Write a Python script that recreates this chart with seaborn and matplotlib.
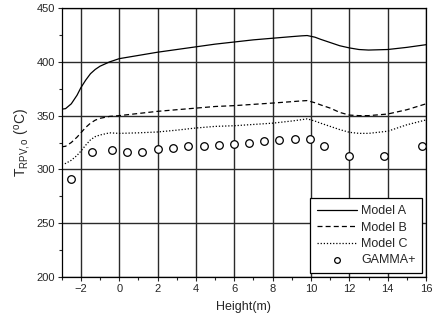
import numpy as np
import pandas as pd
import seaborn as sns
import matplotlib.pyplot as plt

sns.set_style('white')
plt.rcParams['font.family'] = ['Liberation Sans', 'DejaVu Sans']
plt.rcParams['mathtext.fontset'] = 'custom'
plt.rcParams['mathtext.rm'] = 'Liberation Sans'
plt.rcParams['mathtext.it'] = 'Liberation Sans'

# curves
height_model = [-3.0, -2.8, -2.5, -2.2, -2.0, -1.75, -1.5, -1.25, -1.0, -0.5, 0.0, 1.0, 2.0,
                3.0, 4.0, 5.0, 6.0, 7.0, 8.0, 9.0, 9.5, 9.8, 10.2, 10.5, 11.0, 11.5, 12.0,
                12.5, 13.0, 14.0, 15.0, 16.0]
model_a = [356, 356.5, 361, 369, 376, 383, 389, 393, 396, 400, 403, 406, 409,
           411.5, 414, 416.5, 418.5, 420.5, 422, 423.5, 424.2, 424.5, 423, 421, 418, 415, 413,
           411.5, 411, 411.5, 413.5, 416]
model_b = [321, 321.5, 325, 330, 334, 339, 343, 345.8, 347.5, 349.3, 350, 352, 354,
           355.5, 357, 358.5, 359.3, 360.5, 361.7, 363, 363.7, 364, 362, 360, 357, 353, 350.5,
           350, 350, 351.5, 355.5, 361]
model_c = [305, 305.5, 308.5, 313, 317, 322.5, 327.5, 330.5, 332, 334, 333.5, 334, 334.8,
           336.5, 338.5, 340, 340.6, 341.8, 343, 345, 346.2, 347, 345, 343, 340, 337, 334.5,
           333.5, 333.5, 335.5, 341.5, 346]

# GAMMA+ points
height_gamma = [-2.5, -1.4, -0.4, 0.4, 1.2, 2.0, 2.8, 3.6, 4.4, 5.2, 6.0, 6.75,
                7.55, 8.35, 9.15, 9.95, 10.7, 12.0, 13.8, 15.8]
gamma = [291, 316, 318, 316.5, 316.5, 319, 319.5, 321.5, 322, 323, 324, 325,
         326, 327.5, 328, 328, 321.5, 312, 312.5, 321.5]

models = pd.DataFrame({'Height': height_model, 'Model A': model_a,
                       'Model B': model_b, 'Model C': model_c})
pts = pd.DataFrame({'Height': height_gamma, 'T': gamma})

fig = plt.figure(figsize=(4.33, 3.25), dpi=100)
ax = fig.add_axes([0.1425, 0.148, 0.8415, 0.827])

for col, ls in [('Model A', '-'), ('Model B', (0, (4, 2.5))), ('Model C', (0, (1, 1.5)))]:
    sns.lineplot(data=models, x='Height', y=col, ax=ax, color='black',
                 linestyle=ls, linewidth=0.9, label=col)
sns.scatterplot(data=pts, x='Height', y='T', ax=ax, marker='o', s=30,
                facecolor='white', edgecolor='black', linewidth=0.9,
                label='GAMMA+', zorder=5)

ax.set_xlim(-3, 16)
ax.set_ylim(200, 450)
ax.set_xticks(np.arange(-2, 17, 2))
ax.set_xticks(np.arange(-3, 17, 1), minor=True)
ax.set_yticks(np.arange(200, 451, 50))
ax.set_yticks(np.arange(200, 451, 25), minor=True)
ax.grid(True, which='major', color='#2a2a2a', linewidth=1.0)
ax.tick_params(which='major', direction='out', length=3, width=0.8,
               labelsize=8, bottom=True, left=True, pad=2)
ax.tick_params(which='minor', direction='out', length=2, width=0.8,
               bottom=True, left=True)
for s in ax.spines.values():
    s.set_color('black')
    s.set_linewidth(0.9)

ax.set_xlabel('Height(m)', fontsize=9, labelpad=5)
ax.set_ylabel(r'T$_{\mathregular{RPV,o}}$ ($^{\mathregular{o}}$C)', fontsize=10, labelpad=3)

leg = ax.legend(loc='lower right', fontsize=9, frameon=True, fancybox=False,
                handlelength=3.2, handletextpad=0.3, borderpad=0.55,
                labelspacing=0.35, borderaxespad=0.3, markerscale=0.75)
leg.get_frame().set_edgecolor('black')
leg.get_frame().set_linewidth(0.9)
leg.get_frame().set_alpha(1)

fig.savefig('out.png', dpi=100)
